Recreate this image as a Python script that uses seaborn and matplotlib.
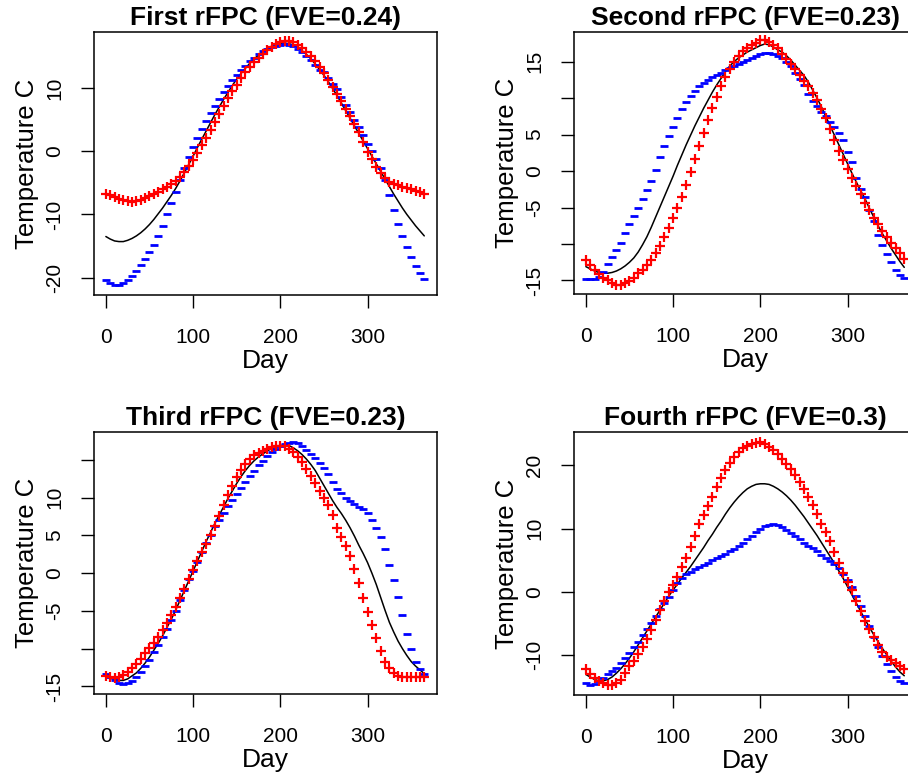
import matplotlib
matplotlib.use("Agg")
import matplotlib.pyplot as plt
import seaborn as sns

sns.set_theme(style="white")
plt.rcParams['font.family'] = ['Liberation Sans', 'DejaVu Sans']
plt.rcParams['text.color'] = 'black'
plt.rcParams['axes.labelcolor'] = 'black'
plt.rcParams['xtick.color'] = 'black'
plt.rcParams['ytick.color'] = 'black'

days = [0, 5, 10, 15, 20, 25, 30, 35, 40, 45,
        50, 55, 60, 65, 70, 75, 80, 85, 90, 95,
        100, 105, 110, 115, 120, 125, 130, 135, 140, 145,
        150, 155, 160, 165, 170, 175, 180, 185, 190, 195,
        200, 205, 210, 215, 220, 225, 230, 235, 240, 245,
        250, 255, 260, 265, 270, 275, 280, 285, 290, 295,
        300, 305, 310, 315, 320, 325, 330, 335, 340, 345,
        350, 355, 360, 365]

titles = ["First rFPC (FVE=0.24)", "Second rFPC (FVE=0.23)",
          "Third rFPC (FVE=0.23)", "Fourth rFPC (FVE=0.3)"]

# ---- Panel 1 ----
p1_red = [-6.7, -7.0, -7.3, -7.6, -7.8, -7.9, -8.0, -7.9, -7.7, -7.4,
          -7.1, -6.8, -6.4, -6.0, -5.6, -5.2, -4.7, -4.1, -3.3, -2.4,
          -1.4, -0.3, 0.9, 2.1, 3.3, 4.6, 5.9, 7.2, 8.4, 9.5,
          10.5, 11.6, 12.5, 13.3, 14.1, 14.8, 15.4, 16.0, 16.5, 16.9,
          17.2, 17.4, 17.4, 17.2, 16.8, 16.3, 15.7, 15.0, 14.2, 13.3,
          12.3, 11.3, 10.2, 9.1, 7.9, 6.7, 5.5, 4.3, 3.0, 1.5,
          -0.1, -1.3, -2.5, -3.4, -4.2, -4.9, -5.2, -5.4, -5.6, -5.8,
          -6.0, -6.3, -6.5, -6.7]
p1_blue = [-20.3, -20.8, -21.1, -21.1, -20.9, -20.4, -19.7, -19.0, -18.0, -17.1,
           -16.0, -14.9, -13.4, -11.8, -10.0, -8.2, -6.4, -4.5, -2.7, -1.0,
           0.6, 2.1, 3.5, 4.8, 6.0, 7.2, 8.3, 9.3, 10.3, 11.2,
           12.0, 12.8, 13.5, 14.2, 14.8, 15.3, 15.8, 16.2, 16.5, 16.7,
           16.8, 16.9, 16.8, 16.6, 16.2, 15.7, 15.1, 14.4, 13.6, 12.9,
           12.6, 11.6, 10.7, 9.8, 8.5, 7.3, 6.2, 5.0, 3.8, 2.5,
           1.2, 0.0, -1.2, -2.6, -4.6, -7.0, -9.3, -11.5, -13.4, -15.2,
           -16.8, -18.2, -19.3, -20.2]
p1_mean = [-13.5, -13.9, -14.2, -14.3, -14.3, -14.1, -13.8, -13.4, -12.9, -12.3,
           -11.6, -10.8, -9.9, -9.0, -8.0, -7.0, -5.9, -4.7, -3.4, -2.1,
           -0.8, 0.6, 1.9, 3.2, 4.5, 5.8, 7.0, 8.2, 9.3, 10.4,
           11.4, 12.3, 13.1, 13.9, 14.6, 15.2, 15.8, 16.3, 16.6, 16.9,
           17.0, 17.1, 17.0, 16.8, 16.4, 15.9, 15.3, 14.6, 13.8, 12.9,
           12.0, 11.0, 9.9, 8.8, 7.6, 6.4, 5.2, 4.0, 2.8, 1.6,
           0.4, -0.8, -2.0, -3.2, -4.4, -5.6, -6.8, -7.9, -9.0, -10.0,
           -10.9, -11.8, -12.6, -13.4]

# ---- Panel 2 ----
p2_red = [-12.2, -12.9, -13.5, -14.1, -14.6, -15.0, -15.4, -15.6, -15.6, -15.4,
          -15.1, -14.6, -14.0, -13.5, -12.9, -12.2, -11.2, -10.3, -9.1, -7.8,
          -6.4, -5.0, -3.5, -1.9, -0.2, 1.6, 3.4, 5.2, 7.0, 8.7,
          10.2, 11.6, 12.9, 14.0, 15.0, 15.8, 16.4, 16.9, 17.3, 17.6,
          17.9, 17.9, 17.7, 17.3, 16.8, 16.1, 15.4, 14.7, 14.0, 13.2,
          12.4, 11.6, 10.7, 9.7, 8.5, 7.2, 5.8, 4.3, 2.8, 1.5,
          0.3, -0.9, -2.1, -3.2, -4.4, -5.4, -6.4, -7.3, -8.2, -9.0,
          -9.8, -10.6, -11.3, -12.0]
p2_blue = [-14.8, -14.8, -14.8, -14.5, -13.9, -12.8, -11.8, -10.8, -9.8, -8.5,
           -7.2, -6.2, -5.1, -3.9, -2.6, -1.3, 0.2, 1.9, 3.4, 4.8,
           6.1, 7.3, 8.5, 9.4, 10.3, 11.0, 11.6, 12.1, 12.5, 12.9,
           13.2, 13.5, 13.8, 14.1, 14.4, 14.6, 14.9, 15.2, 15.5, 15.8,
           16.0, 16.2, 16.2, 16.0, 15.8, 15.5, 15.0, 14.4, 13.5, 12.6,
           11.8, 10.6, 9.6, 8.9, 8.1, 7.5, 6.7, 6.0, 5.2, 4.2,
           2.6, 1.3, -1.0, -2.5, -3.6, -5.3, -6.9, -8.7, -10.1, -11.4,
           -12.5, -13.5, -14.3, -14.7]
p2_mean = [-13.1, -13.4, -13.7, -13.9, -14.0, -14.0, -13.9, -13.7, -13.4, -13.0,
           -12.5, -11.9, -11.1, -10.1, -9.0, -7.7, -6.3, -4.9, -3.5, -2.1,
           -0.7, 0.8, 2.2, 3.6, 4.9, 6.2, 7.4, 8.6, 9.7, 10.8,
           11.8, 12.7, 13.6, 14.4, 15.0, 15.5, 15.9, 16.3, 16.6, 16.9,
           17.2, 17.4, 17.3, 17.0, 16.6, 16.3, 15.8, 15.2, 14.5, 13.8,
           13.1, 12.2, 11.1, 10.0, 8.8, 7.5, 6.2, 4.9, 3.6, 2.3,
           1.0, -0.3, -1.5, -2.7, -3.8, -5.1, -6.3, -7.5, -8.6, -9.6,
           -10.6, -11.5, -12.4, -13.2]

# ---- Panel 3 ----
p3_red = [-13.6, -13.8, -13.9, -13.8, -13.5, -13.1, -12.6, -12.0, -11.3, -10.6,
          -9.9, -9.2, -8.4, -7.5, -6.6, -5.6, -4.5, -3.3, -2.1, -0.8,
          0.4, 1.6, 2.8, 3.9, 5.0, 6.3, 7.6, 9.0, 10.3, 11.6,
          12.7, 13.7, 14.5, 15.1, 15.6, 15.9, 16.2, 16.5, 16.7, 16.8,
          16.9, 16.8, 16.5, 16.0, 15.4, 14.7, 13.8, 12.9, 12.0, 10.9,
          9.9, 9.0, 7.7, 6.0, 4.8, 3.6, 2.3, 0.5, -1.3, -3.3,
          -5.1, -6.9, -8.6, -10.3, -11.7, -12.6, -13.2, -13.6, -13.7, -13.7,
          -13.7, -13.7, -13.7, -13.7]
p3_blue = [-13.3, -13.7, -14.2, -14.5, -14.7, -14.6, -14.3, -13.8, -13.1, -12.3,
           -11.5, -10.5, -9.5, -8.5, -7.4, -6.2, -5.0, -3.6, -2.2, -0.8,
           0.3, 1.5, 2.8, 4.0, 5.1, 6.2, 7.1, 8.0, 8.9, 9.7,
           10.5, 11.3, 12.1, 12.9, 13.6, 14.3, 14.9, 15.5, 16.0, 16.4,
           16.8, 17.1, 17.3, 17.4, 17.2, 16.8, 16.3, 15.8, 15.2, 14.6,
           13.9, 13.1, 12.1, 11.2, 10.6, 10.0, 9.5, 9.1, 8.8, 8.5,
           8.0, 7.1, 6.0, 4.8, 3.2, 1.1, -0.9, -3.2, -5.6, -8.0,
           -10.1, -11.8, -12.7, -13.3]
p3_mean = [-13.6, -13.9, -14.1, -14.2, -14.2, -14.0, -13.6, -13.2, -12.6, -11.9,
           -11.1, -10.2, -9.3, -8.3, -7.2, -6.1, -4.9, -3.6, -2.3, -1.0,
           0.3, 1.6, 2.9, 4.2, 5.4, 6.6, 7.7, 8.8, 9.9, 10.9,
           11.9, 12.8, 13.6, 14.3, 14.9, 15.4, 15.8, 16.2, 16.5, 16.7,
           16.9, 17.0, 16.9, 16.6, 16.2, 15.7, 15.1, 14.4, 13.6, 12.6,
           11.6, 10.6, 9.6, 8.7, 7.9, 7.0, 6.0, 4.9, 3.7, 2.6,
           1.4, 0.0, -1.5, -3.2, -4.9, -6.5, -7.8, -9.0, -10.0, -10.9,
           -11.7, -12.3, -12.8, -13.3]

# ---- Panel 4 ----
p4_red = [-12.3, -13.0, -13.6, -14.1, -14.5, -14.7, -14.7, -14.5, -13.9, -12.9,
          -11.8, -10.9, -9.8, -8.7, -7.5, -6.0, -4.4, -2.9, -1.5, -0.1,
          1.0, 2.4, 3.9, 5.4, 7.1, 8.9, 10.7, 12.2, 13.6, 15.0,
          16.6, 18.0, 19.3, 20.4, 21.3, 22.1, 22.7, 23.1, 23.4, 23.6,
          23.7, 23.4, 23.0, 22.4, 21.8, 21.1, 20.3, 19.5, 18.5, 17.4,
          16.3, 15.0, 13.7, 12.3, 10.8, 9.4, 8.0, 6.3, 4.5, 2.9,
          1.5, 0.2, -1.4, -3.1, -4.6, -5.9, -7.2, -8.4, -9.5, -10.3,
          -10.8, -11.3, -11.8, -12.2]
p4_blue = [-14.5, -14.7, -14.6, -14.2, -13.6, -13.1, -12.6, -12.0, -11.3, -10.5,
           -9.7, -8.8, -7.9, -6.9, -5.9, -4.9, -3.8, -2.8, -1.8, -0.8,
           0.3, 1.4, 2.2, 2.8, 3.2, 3.6, 3.9, 4.3, 4.6, 5.0,
           5.4, 5.7, 6.0, 6.4, 6.8, 7.3, 7.8, 8.3, 8.9, 9.4,
           9.9, 10.4, 10.6, 10.7, 10.6, 10.3, 9.8, 9.3, 8.8, 8.3,
           7.8, 7.3, 6.9, 6.4, 5.9, 5.4, 4.9, 4.4, 3.7, 2.8,
           1.8, 0.7, -0.7, -2.2, -3.9, -5.5, -7.1, -8.7, -10.1, -11.4,
           -12.6, -13.5, -14.1, -14.5]
p4_mean = [-13.1, -13.5, -13.9, -14.1, -14.1, -13.9, -13.5, -12.9, -12.2, -11.4,
           -10.5, -9.5, -8.4, -7.3, -6.2, -5.1, -4.0, -2.9, -1.8, -0.7,
           0.3, 1.2, 2.2, 3.1, 4.0, 5.0, 6.0, 7.0, 8.1, 9.1,
           10.2, 11.2, 12.3, 13.3, 14.2, 15.0, 15.7, 16.3, 16.7, 17.0,
           17.1, 17.1, 17.0, 16.7, 16.3, 15.8, 15.2, 14.5, 13.7, 12.8,
           11.9, 10.9, 9.9, 8.9, 7.8, 6.7, 5.6, 4.5, 3.3, 2.1,
           0.8, -0.5, -1.8, -3.1, -4.4, -5.6, -6.8, -7.9, -9.0, -10.0,
           -11.0, -11.9, -12.7, -13.3]

x_ticks = [0, 100, 200, 300]
y_ticks = [[-20, -10, 0, 10],
           [-15, -10, -5, 0, 5, 10, 15],
           [-15, -10, -5, 0, 5, 10, 15],
           [-10, 0, 10, 20]]
y_ticklabels = [["-20", "-10", "0", "10"],
                ["-15", "", "-5", "0", "5", "", "15"],
                ["-15", "", "-5", "0", "5", "10", ""],
                ["-10", "0", "10", "20"]]

reds = [p1_red, p2_red, p3_red, p4_red]
blues = [p1_blue, p2_blue, p3_blue, p4_blue]
means = [p1_mean, p2_mean, p3_mean, p4_mean]

W, H = 908, 778
# pixel boxes (left, top, right, bottom)
boxes = [(94, 32, 437, 295), (574, 32, 917, 294),
         (94, 432, 437, 694), (574, 432, 917, 695)]
ylims = [(-22.75, 18.85), (-16.85, 19.05), (-16.0, 18.7), (-16.35, 25.3)]

fig = plt.figure(figsize=(W / 100, H / 100), dpi=100)
for i in range(4):
    l, t, r, b = boxes[i]
    ax = fig.add_axes([l / W, 1 - b / H, (r - l) / W, (b - t) / H])
    sns.lineplot(x=days, y=means[i], color="black", linewidth=1.1, ax=ax)
    sns.scatterplot(x=days, y=blues[i], marker="_", color="#0000ff",
                    s=28, linewidth=2.0, ax=ax, zorder=3)
    sns.scatterplot(x=days, y=reds[i], marker="+", color="#ff0000",
                    s=60, linewidth=1.6, ax=ax, zorder=4)
    ax.set_xlim(-13.6, 379.6)
    ax.set_ylim(*ylims[i])
    ax.set_xticks(x_ticks)
    ax.set_xticklabels([str(v) for v in x_ticks], fontsize=15)
    ax.set_yticks(y_ticks[i])
    ax.set_yticklabels(y_ticklabels[i], fontsize=15, rotation=90, va="center", ha="center")
    ax.tick_params(axis="both", direction="out", length=9.5, width=1.0, color="black",
                   labelcolor="black", left=True, bottom=True)
    ax.tick_params(axis="y", pad=19)
    ax.tick_params(axis="x", pad=14.5)
    for sp in ax.spines.values():
        sp.set_color("black")
        sp.set_linewidth(1.1)
        sp.set_visible(True)
    ax.set_xlabel("")
    ax.set_ylabel("")
    ax.annotate("Day", xy=(0.5, 0), xycoords="axes fraction", xytext=(0, -66),
                textcoords="offset pixels", ha="center", va="center", fontsize=19,
                color="black")
    ax.annotate("Temperature C", xy=(0, 0.5), xycoords="axes fraction", xytext=(-67, 0),
                textcoords="offset pixels", ha="center", va="center", fontsize=18.5,
                rotation=90, color="black")
    ax.annotate(titles[i], xy=(0.5, 1), xycoords="axes fraction", xytext=(0, 14),
                textcoords="offset pixels", ha="center", va="center", fontsize=19,
                fontweight="bold", color="black")

fig.savefig("out.png", dpi=100)
